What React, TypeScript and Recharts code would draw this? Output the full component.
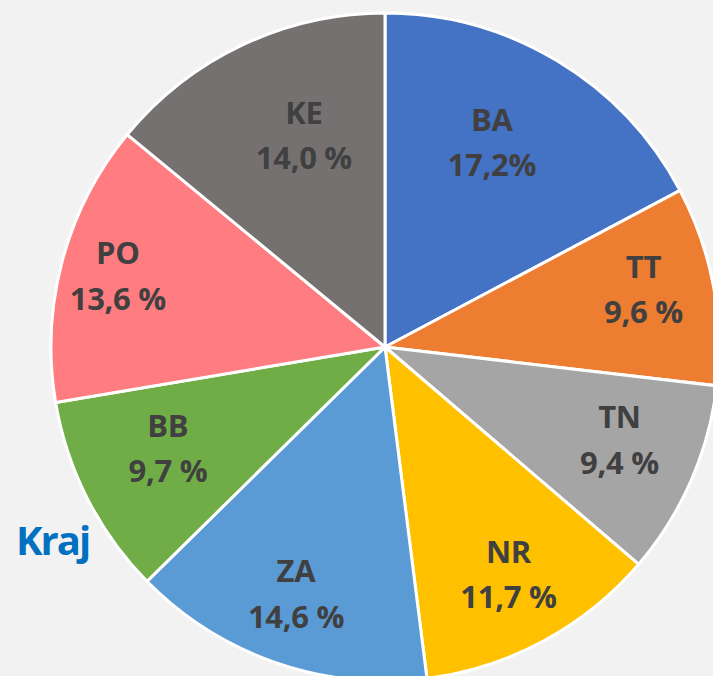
import { PieChart, Pie, Cell } from 'recharts'

const REGIONS = ['BA', 'TT', 'TN', 'NR', 'ZA', 'BB', 'PO', 'KE']
const SHARES = [17.2, 9.6, 9.4, 11.7, 14.6, 9.7, 13.6, 14.0]
const SHARE_LABELS = ['17,2%', '9,6 %', '9,4 %', '11,7 %', '14,6 %', '9,7 %', '13,6 %', '14,0 %']

const COLORS = ['#4472c4', '#ed7d31', '#a5a5a5', '#ffc000', '#5b9bd5', '#70ad47', '#ff7c80', '#767171']
// best-fit label placement: distance (share of radius) and clockwise angle nudge in degrees
const LABEL_R = [0.692, 0.793, 0.755, 0.774, 0.786, 0.717, 0.828, 0.679]
const LABEL_TURN = [-3.5, -2, -2, -0.2, 0.7, 2.1, 0, 4.3]

const data = REGIONS.map((name, i) => ({ name, value: SHARES[i], label: SHARE_LABELS[i] }))

const RAD = Math.PI / 180

const renderLabel = (props: any) => {
  const { cx, cy, midAngle, outerRadius, index } = props
  const r = outerRadius * LABEL_R[index]
  const a = midAngle - LABEL_TURN[index]
  const x = cx + r * Math.cos(-a * RAD)
  const y = cy + r * Math.sin(-a * RAD)
  const style = {
    fontFamily: '"Open Sans", sans-serif',
    fontWeight: 700,
    fontSize: 31,
    fill: '#404040',
    letterSpacing: -0.3,
  }
  return (
    <g>
      <text x={x} y={y - 11.5} textAnchor='middle' style={style}>
        {data[index].name}
      </text>
      <text x={x} y={y + 34} textAnchor='middle' style={style}>
        {data[index].label}
      </text>
    </g>
  )
}

export default function App() {
  return (
    <div
      style={{
        position: 'fixed',
        left: 0,
        top: 0,
        width: 713,
        height: 676,
        background: '#f2f2f2',
        overflow: 'hidden',
      }}
    >
      <PieChart width={713} height={676} margin={{ top: 0, right: 0, bottom: 0, left: 0 }}>
        <Pie
          data={data}
          dataKey='value'
          nameKey='name'
          cx={385}
          cy={347}
          outerRadius={334}
          startAngle={90}
          endAngle={-270}
          stroke='#ffffff'
          strokeWidth={3}
          label={renderLabel}
          labelLine={false}
          isAnimationActive={false}
        >
          {data.map((d, i) => (
            <Cell key={d.name} fill={COLORS[i]} stroke='#ffffff' strokeWidth={3} />
          ))}
        </Pie>
      </PieChart>
      <svg
        width={713}
        height={676}
        style={{ position: 'absolute', left: 0, top: 0, pointerEvents: 'none' }}
      >
        <text
          x={16}
          y={555}
          style={{
            fontFamily: '"Open Sans", sans-serif',
            fontWeight: 700,
            fontSize: 40,
            fill: '#0070c0',
            letterSpacing: -2,
          }}
        >
          Kraj
        </text>
      </svg>
    </div>
  )
}
